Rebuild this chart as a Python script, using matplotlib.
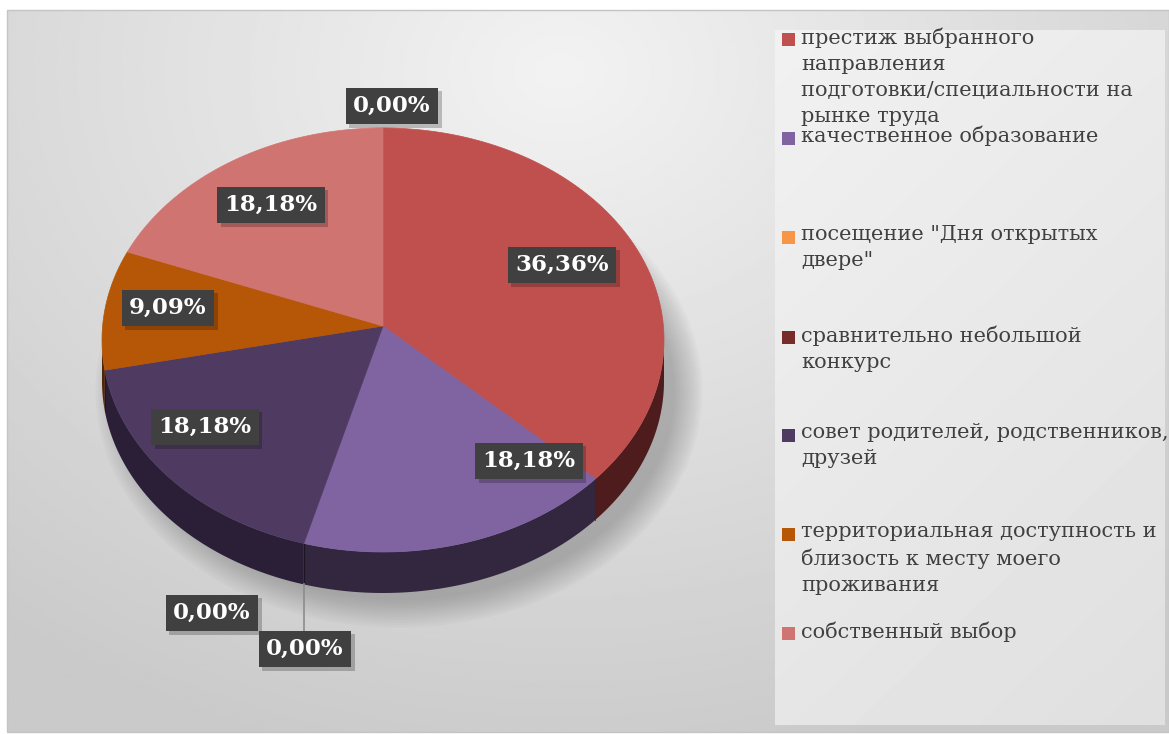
import matplotlib
matplotlib.use("Agg")
import matplotlib.pyplot as plt
import matplotlib.patheffects as pe
from matplotlib.patches import Polygon, Rectangle, Ellipse
import numpy as np

# --- data -------------------------------------------------------------
categories = [
    "престиж выбранного\nнаправления\nподготовки/специальности на\nрынке труда",
    "качественное образование",
    "посещение \"Дня открытых\nдвере\"",
    "сравнительно небольшой\nконкурс",
    "совет родителей, родственников,\nдрузей",
    "территориальная доступность и\nблизость к месту моего\nпроживания",
    "собственный выбор",
    "",  # 8th point, not shown in the legend
]
shares = [36.36, 18.18, 0.00, 0.00, 18.18, 9.09, 18.18, 0.00]
top_colors = ["#c0504d", "#8064a2", "#f79646", "#772c2a",
              "#4f3b62", "#b65708", "#d07471", "#4bacc6"]
side_colors = ["#4e1c1c", "#33263f", "#6e3c14", "#3a1514",
               "#2b1f38", "#4f2606", "#5a2a28", "#1f4a55"]

# label anchor points (pixels) for the data labels
label_xy = [(562, 265), (529, 461), (212, 613), (305, 649),
            (205, 427), (168, 308), (271, 205), (392, 106)]

# --- geometry (pixels) -------------------------------------------------
W, H = 1169, 734
CX, CY, RX, RY, DEPTH = 383, 340, 281, 212, 41
APEX = (383, 326)
FONT = ["DejaVu Serif"]

fig = plt.figure(figsize=(W / 100, H / 100), dpi=100)
ax = fig.add_axes([0, 0, 1, 1])
ax.set_xlim(0, W)
ax.set_ylim(H, 0)
ax.axis("off")

# chart area background: soft radial gradient
gx, gy = np.meshgrid(np.linspace(7, W, 400), np.linspace(10, 732, 250))
d = np.sqrt(((gx - 560) / 950) ** 2 + ((gy - 70) / 760) ** 2)
bg = np.clip(0.95 - 0.17 * d, 0.79, 0.95)
ax.imshow(bg, extent=(7, W, 732, 10), cmap="gray", vmin=0, vmax=1,
          aspect="auto", interpolation="bilinear", zorder=0)
ax.add_patch(Rectangle((7, 10), W - 7, 722, fill=False, ec="#c4c4c4", lw=1, zorder=1))

# legend panel
lx, ly = np.meshgrid(np.linspace(0, 1, 100), np.linspace(0, 1, 200))
lg = 0.945 - 0.07 * (0.35 * lx + 0.65 * ly)
ax.imshow(lg, extent=(775, 1165, 725, 30), cmap="gray", vmin=0, vmax=1,
          aspect="auto", interpolation="bilinear", zorder=1)
ax.set_xlim(0, W)
ax.set_ylim(H, 0)

# soft shadow under the pie, mostly towards bottom right
for k in range(12):
    ax.add_patch(Ellipse((CX + 16, CY + DEPTH + 10), 2 * RX - 10 + k * 5,
                         2 * RY - 6 + k * 5, fc="#505050", ec="none",
                         alpha=0.03, zorder=2))


def rim(t0, t1, dy=0.0, n=120):
    t = np.radians(np.linspace(t0, t1, n))
    return np.column_stack([CX + RX * np.sin(t), CY - RY * np.cos(t) + dy])


bounds = np.concatenate([[0], np.cumsum(shares)]) / sum(shares) * 360

# side walls (front half only)
for i in range(len(shares)):
    a, b = max(bounds[i], 90), min(bounds[i + 1], 270)
    if b <= a:
        continue
    pts = np.vstack([rim(a, b), rim(b, a, DEPTH)])
    ax.add_patch(Polygon(pts, closed=True, fc=side_colors[i], ec="none", zorder=3))
# thin seams between side segments
for t in bounds[1:-1]:
    if 90 < t < 270:
        x = CX + RX * np.sin(np.radians(t))
        y = CY - RY * np.cos(np.radians(t))
        ax.plot([x, x], [y, y + DEPTH], color="#1c1424", lw=0.8, alpha=0.6, zorder=4)

# top faces
for i in range(len(shares)):
    if bounds[i + 1] - bounds[i] <= 0:
        continue
    pts = np.vstack([[APEX], rim(bounds[i], bounds[i + 1])])
    ax.add_patch(Polygon(pts, closed=True, fc=top_colors[i], ec=top_colors[i],
                         lw=0.5, zorder=5))

# leader line for the zero slices at the front
t0 = np.radians(bounds[2])
lxp = CX + RX * np.sin(t0)
ax.plot([lxp, lxp], [CY - RY * np.cos(t0) + DEPTH, label_xy[3][1] - 18],
        color="#8c8c8c", lw=1.2, zorder=4)

# data labels
for v, (x, y) in zip(shares, label_xy):
    txt = f"{v:.2f}%".replace(".", ",")
    t = ax.text(x, y, txt, ha="center", va="center", fontsize=16.5,
                fontweight="bold", color="white", family=FONT, zorder=8,
                bbox=dict(boxstyle="square,pad=0.32", fc="#404040", ec="none"))
    t.get_bbox_patch().set_path_effects(
        [pe.SimplePatchShadow(offset=(2.5, -2.5), shadow_rgbFace="#000000", alpha=0.22),
         pe.Normal()])

# legend
row_y = [39, 138, 237, 337, 435, 534, 633]
for name, col, y in zip(categories, top_colors, row_y):
    ax.add_patch(Rectangle((782, y - 6.5), 13, 13, fc=col, ec="none", zorder=6))
    ax.text(801, y - 12, name, ha="left", va="top", fontsize=15,
            color="#404040", family=FONT, linespacing=1.47, zorder=6)

fig.savefig("out.png", dpi=100, facecolor="white")
plt.close(fig)
